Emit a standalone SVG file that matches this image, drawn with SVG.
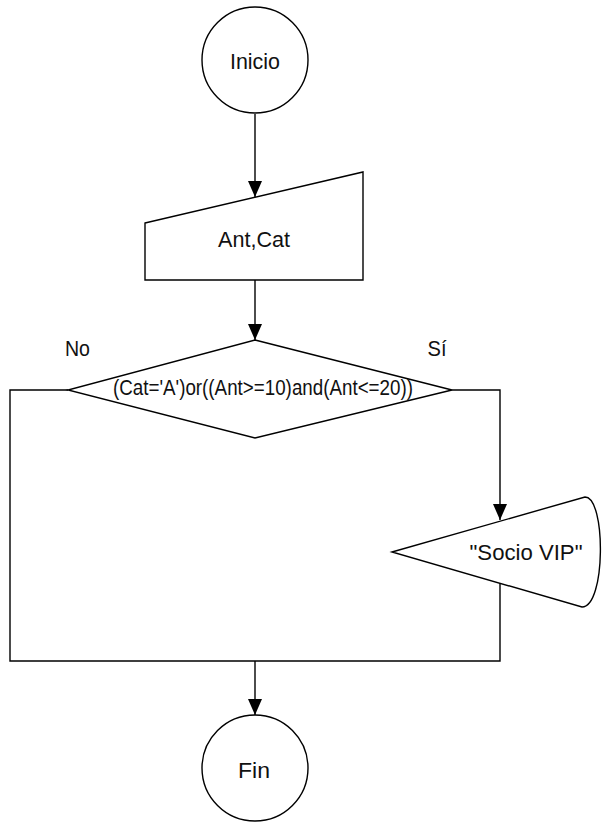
<svg xmlns="http://www.w3.org/2000/svg" width="602" height="823" viewBox="0 0 602 823">
<defs>
<style>
.s{fill:#fff;stroke:#000;stroke-width:1.4}
.c{fill:none;stroke:#000;stroke-width:1.4}
.t{font-family:"Liberation Sans",Arial,sans-serif;font-size:22px;fill:#111;text-anchor:middle}
</style>
<marker id="ah" markerWidth="16" markerHeight="14" refX="16" refY="7" orient="auto" markerUnits="userSpaceOnUse">
<path d="M0,0 L16,7 L0,14 Z" fill="#000"/>
</marker>
</defs>
<rect width="602" height="823" fill="#fff"/>
<g id="connectors">
<path class="c" d="M255,114 V197" marker-end="url(#ah)"/>
<path class="c" d="M255,280 V340" marker-end="url(#ah)"/>
<path class="c" d="M68,390 H10 V661 H500 V583"/>
<path class="c" d="M452,390 H500 V520" marker-end="url(#ah)"/>
<path class="c" d="M255,661 V715" marker-end="url(#ah)"/>
</g>
<g id="inicio">
<circle class="s" cx="255" cy="60" r="53"/>
<text class="t" x="255" y="69" textLength="50" lengthAdjust="spacingAndGlyphs">Inicio</text>
</g>
<g id="entrada">
<path class="s" d="M145,223 L363,172 V280 H145 Z"/>
<text class="t" x="254" y="247" textLength="72" lengthAdjust="spacingAndGlyphs">Ant,Cat</text>
</g>
<g id="decision">
<path class="s" d="M255,340 L452,390 L255,438 L68,390 Z"/>
<text class="t" x="263" y="395" font-size="19" textLength="300" lengthAdjust="spacingAndGlyphs">(Cat='A')or((Ant&gt;=10)and(Ant&lt;=20))</text>
<text class="t" x="77.5" y="356" textLength="25" lengthAdjust="spacingAndGlyphs">No</text>
<text class="t" x="437" y="356" textLength="19" lengthAdjust="spacingAndGlyphs">Sí</text>
</g>
<g id="salida">
<path class="s" d="M392,552 L585,497 C606,497 606,607 582,607 Z"/>
<text class="t" x="526" y="560" textLength="113" lengthAdjust="spacingAndGlyphs">"Socio VIP"</text>
</g>
<g id="fin">
<circle class="s" cx="255" cy="768" r="53"/>
<text class="t" x="254" y="778" textLength="32" lengthAdjust="spacingAndGlyphs">Fin</text>
</g>
</svg>
